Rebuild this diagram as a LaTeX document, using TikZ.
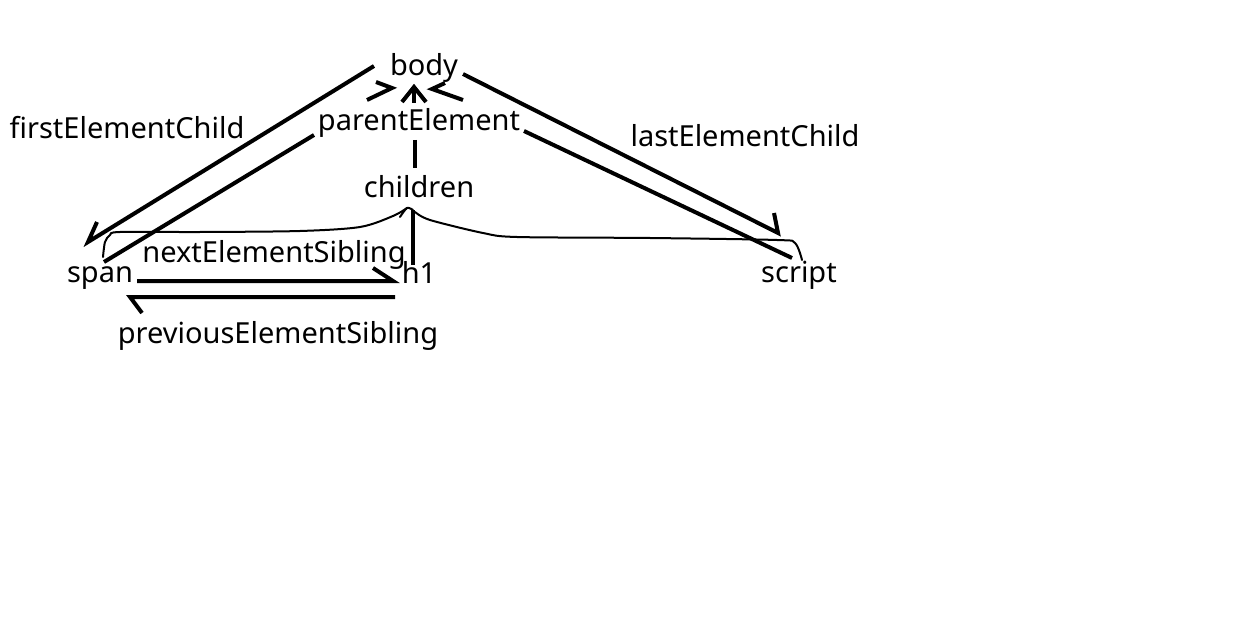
\documentclass[tikz,border=0pt]{standalone}
\usepackage{fontspec}
\setmainfont{Noto Sans}
\begin{document}
\begin{tikzpicture}[x=1pt,y=-1pt,
  lbl/.style={anchor=base,inner sep=0pt,font=\fontsize{29}{34}\selectfont},
  thick line/.style={line width=4pt,line cap=butt,line join=miter},
  thin line/.style={line width=2pt,line cap=round,line join=round}]
\useasboundingbox[fill=white] (0,0) rectangle (1238,628);
% labels
\node[lbl] (body) at (424,76) {body};
\node[lbl] (parent) at (419,131) {parentElement};
\node[lbl] (children) at (419,198) {children};
\node[lbl] (fec) at (127,139) {firstElementChild};
\node[lbl] (lec) at (745,147) {lastElementChild};
\node[lbl] (span) at (100,282) {span};
\node[lbl] (h1) at (419,283) {h1};
\node[lbl] (script) at (799,282) {script};
\node[lbl] (nes) at (274,262) {nextElementSibling};
\node[lbl] (pes) at (278,343) {previousElementSibling};
% connector end points
\coordinate (fecA) at (374,66);
\coordinate (fecB) at (88,242);
\coordinate (lecA) at (463,74);
\coordinate (lecB) at (778,233);
\coordinate (pSpanA) at (104,262);
\coordinate (pSpanB) at (314,135);
\coordinate (pScrA) at (792,258);
\coordinate (pScrB) at (524,131);
\coordinate (tipL) at (392,88);
\coordinate (tipC) at (414,87);
\coordinate (tipR) at (432,89);
\coordinate (nesA) at (137,281);
\coordinate (nesB) at (393,281);
\coordinate (pesA) at (395,297);
\coordinate (pesB) at (130,297);
% firstElementChild
\draw[thick line] (fecA) -- (fecB) -- ++(9,-20);
% lastElementChild
\draw[thick line] (lecA) -- (lecB) -- ++(-4,-20);
% parentElement from span
\draw[thick line] (pSpanA) -- (pSpanB);
\draw[thick line] (367,100) -- (tipL) -- (376,82);
% parentElement from script
\draw[thick line] (pScrA) -- (pScrB);
\draw[thick line] (463,100) -- (tipR) -- (445,83);
% parentElement from children (up)
\draw[thick line] (402,102) -- (tipC) -- (426,102);
\draw[thick line] (tipC) -- (414,103);
\draw[thick line] (415,140) -- (415,168);
\draw[thick line] (413,265) -- (413,210);
% brace
\draw[thin line] plot[smooth,tension=0.5] coordinates {(103,257) (105,242) (110,235) (120,232) (200,232) (300,231) (360,227) (393,216) (407,208)};
\draw[thin line] plot[smooth,tension=0.5] coordinates {(400,217) (407,208) (413,210)};
\draw[thin line] plot[smooth,tension=0.5] coordinates {(415,212) (430,220) (483,233) (517,237) (650,238) (777,240) (795,243) (802,260)};
% siblings
\draw[thick line] (nesA) -- (nesB) -- ++(-20,-13);
\draw[thick line] (pesA) -- (pesB) -- ++(12,16);
\end{tikzpicture}
\end{document}
